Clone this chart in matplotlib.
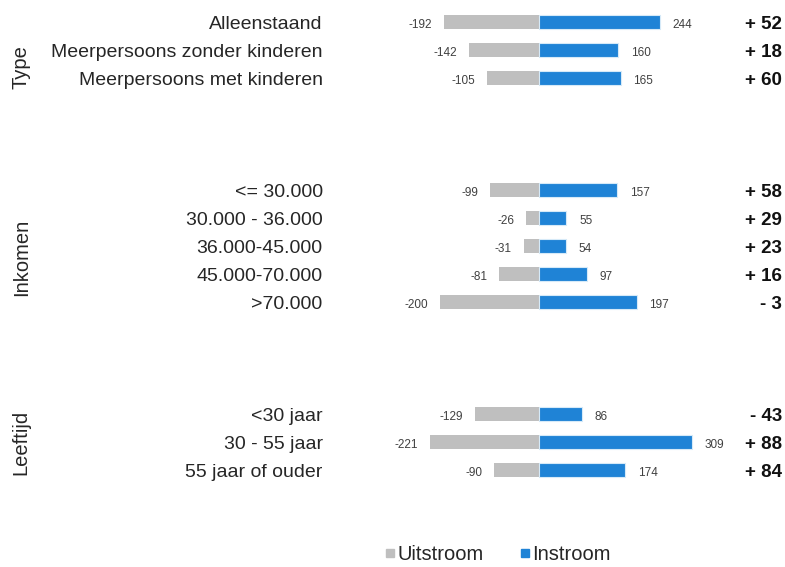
import matplotlib.pyplot as plt
import numpy as np

plt.rcParams["font.family"] = ["Liberation Sans", "DejaVu Sans"]

# Verhuisstromen per huishoudgroep
GROUPS = ["Type", "Inkomen", "Leeftijd"]
CATEGORIES = [
    ["Alleenstaand", "Meerpersoons zonder kinderen", "Meerpersoons met kinderen"],
    ["<= 30.000", "30.000 - 36.000", "36.000-45.000", "45.000-70.000", ">70.000"],
    ["<30 jaar", "30 - 55 jaar", "55 jaar of ouder"],
]
UITSTROOM = [
    [-192, -142, -105],
    [-99, -26, -31, -81, -200],
    [-129, -221, -90],
]
INSTROOM = [
    [244, 160, 165],
    [157, 55, 54, 97, 197],
    [86, 309, 174],
]

COLOR_UIT = "#bfbfbf"
COLOR_IN = "#1f83d6"
TEXT_DARK = "#262626"
GROUP_GAP = 4          # empty rows between groups
LABEL_SHIFT = [0.6, 0.4, 0.0]  # vertical nudge of group titles (rows)
TXT_DY = 0.1           # text sits a touch below the bar centre


def main() -> None:
    fig = plt.figure(figsize=(7.85, 5.67), dpi=100)
    ax = fig.add_axes([0, 0, 1, 1])
    ax.axis("off")

    # pixel-like layout: zero line at x=539 px, 0.495 px per person, 28 px per row
    px_per_unit = 0.495
    x0 = 539
    ax.set_xlim(-x0 / px_per_unit, (785 - x0) / px_per_unit)
    ax.set_ylim((567 - 22) / 28, -22 / 28)

    fx = ax.get_yaxis_transform()  # x in axes fraction, y in data

    row = 0
    for g, name in enumerate(GROUPS):
        cats = CATEGORIES[g]
        uit = np.array(UITSTROOM[g])
        ins = np.array(INSTROOM[g])
        pos = row + np.arange(len(cats))

        ax.barh(pos, uit, height=0.5, color=COLOR_UIT, edgecolor="none", zorder=2)
        ax.barh(pos, ins, height=0.5, color=COLOR_IN, edgecolor="#d6eaf8",
                linewidth=0.8, zorder=2)

        for p, c, u, i in zip(pos, cats, uit, ins):
            ty = p + TXT_DY
            ax.text(0.411, ty, c, transform=fx, ha="right", va="center",
                    fontsize=14, color=TEXT_DARK)
            ax.text(u - 24, ty, f"{u}", ha="right", va="center",
                    fontsize=8.5, color="#404040")
            ax.text(i + 26, ty, f"{i}", ha="left", va="center",
                    fontsize=8.5, color="#404040")
            net = i + u
            sign = "+" if net >= 0 else "-"
            ax.text(0.996, ty, f"{sign} {abs(net)}", transform=fx, ha="right",
                    va="center", fontsize=13.5, fontweight="bold", color="#111111")

        ax.text(0.027, pos.mean() + LABEL_SHIFT[g], name, transform=fx,
                rotation=90, ha="center", va="center", fontsize=14.5,
                color=TEXT_DARK)

        row += len(cats) + GROUP_GAP - 1

    # legend with square markers
    handles = [
        plt.Line2D([], [], marker="s", linestyle="none", markersize=6,
                   color=COLOR_UIT, label="Uitstroom"),
        plt.Line2D([], [], marker="s", linestyle="none", markersize=6,
                   color=COLOR_IN, label="Instroom"),
    ]
    fig.legend(handles=handles, loc="center", bbox_to_anchor=(0.634, 0.022),
               ncol=2, frameon=False, fontsize=14.5, handletextpad=0.1,
               columnspacing=1.8, handlelength=0.5, borderpad=0.2)
    for t in fig.legends[0].get_texts():
        t.set_color(TEXT_DARK)

    fig.savefig("out.png", dpi=100)


if __name__ == "__main__":
    main()
